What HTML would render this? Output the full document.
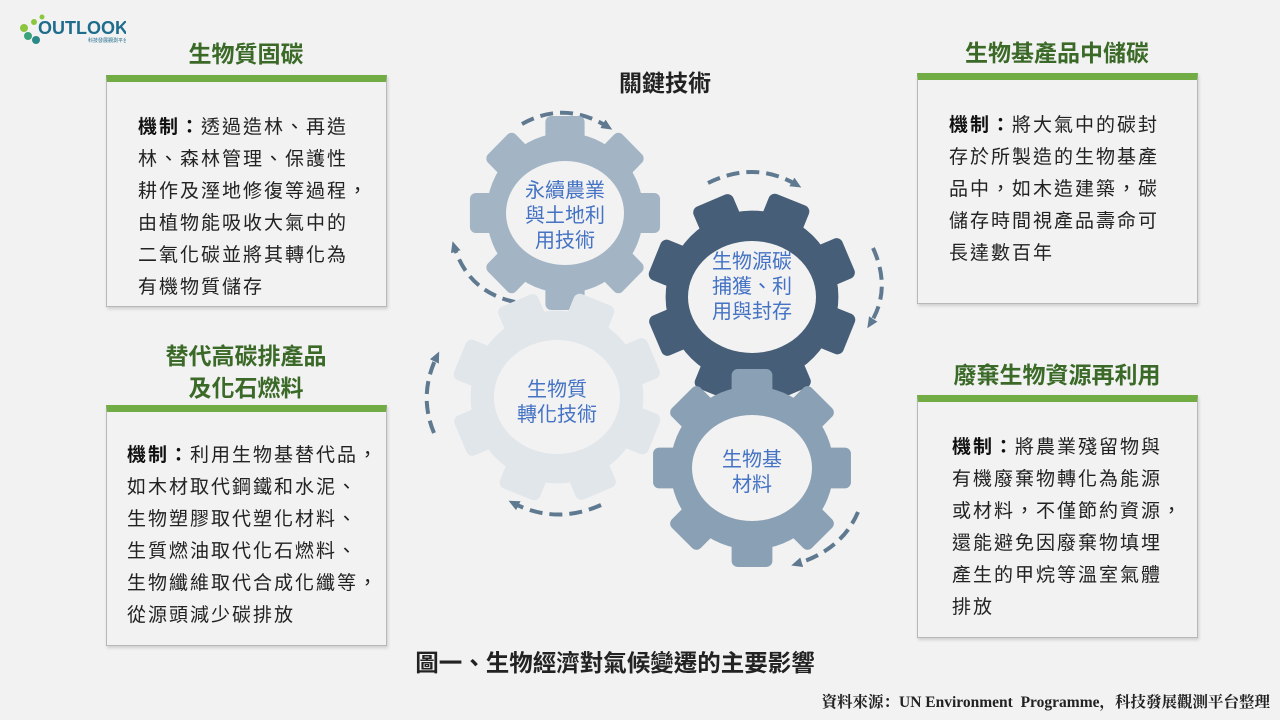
<!DOCTYPE html>
<html><head><meta charset="utf-8"><style>
body{margin:0;width:1280px;height:720px;background:#f2f2f2;position:relative;overflow:hidden;font-family:"Liberation Sans","Noto Sans CJK TC",sans-serif;}
.t{position:absolute;color:#3b6a28;font-weight:bold;font-size:23px;text-align:center;line-height:32px}
.box{position:absolute;background:#f2f2f2;border:1px solid #b8b8b8;border-top:7px solid #72ac45;box-shadow:1px 2px 3px rgba(0,0,0,.15);box-sizing:border-box;font-size:19px;color:#222;line-height:32px;letter-spacing:2px;white-space:nowrap}
.box b{color:#111}
.g{font-family:"Liberation Sans","Noto Sans CJK TC",sans-serif;font-size:20px;fill:#4472c4;text-anchor:middle}
</style></head><body>
<svg style="position:absolute;left:14px;top:6px" width="112" height="38">
<circle cx="10" cy="22" r="4" fill="#8cc63f"/><circle cx="14" cy="30" r="4" fill="#3aa37a"/><circle cx="20" cy="16" r="3" fill="#8cc63f"/><circle cx="28" cy="11" r="2.5" fill="#8cc63f"/><circle cx="22" cy="34" r="4" fill="#2b8a88"/>
<text x="24" y="28" font-family="Liberation Sans" font-weight="bold" font-size="18" fill="#1f6c8c">OUTLOOK</text>
<text x="74" y="36" font-size="5" fill="#1f6c8c" font-family="Noto Sans CJK TC">科技發展觀測平台</text></svg>

<div class="t" style="left:106px;top:38px;width:280px">生物質固碳</div>
<div class="box" style="left:106px;top:75px;width:281px;height:232px;padding:30px 0 0 31px">
<b>機制：</b>透過造林、再造<br>林、森林管理、保護性<br>耕作及溼地修復等過程，<br>由植物能吸收大氣中的<br>二氧化碳並將其轉化為<br>有機物質儲存</div>

<div class="t" style="left:106px;top:340px;width:280px">替代高碳排產品<br>及化石燃料</div>
<div class="box" style="left:106px;top:405px;width:281px;height:241px;padding:28px 0 0 20px">
<b>機制：</b>利用生物基替代品，<br>如木材取代鋼鐵和水泥、<br>生物塑膠取代塑化材料、<br>生質燃油取代化石燃料、<br>生物纖維取代合成化纖等，<br>從源頭減少碳排放</div>

<div class="t" style="left:917px;top:37px;width:280px">生物基產品中儲碳</div>
<div class="box" style="left:917px;top:73px;width:281px;height:231px;padding:30px 0 0 31px">
<b>機制：</b>將大氣中的碳封<br>存於所製造的生物基產<br>品中，如木造建築，碳<br>儲存時間視產品壽命可<br>長達數百年</div>

<div class="t" style="left:917px;top:359px;width:280px">廢棄生物資源再利用</div>
<div class="box" style="left:917px;top:395px;width:281px;height:243px;padding:30px 0 0 34px">
<b>機制：</b>將農業殘留物與<br>有機廢棄物轉化為能源<br>或材料，不僅節約資源，<br>還能避免因廢棄物填埋<br>產生的甲烷等溫室氣體<br>排放</div>

<div style="position:absolute;left:560px;top:64px;width:210px;text-align:center;font-weight:bold;font-size:23px;color:#222">關鍵技術</div>
<div style="position:absolute;left:300px;top:644px;width:630px;text-align:center;font-weight:bold;font-size:23.5px;color:#222">圖一、生物經濟對氣候變遷的主要影響</div>
<div style="position:absolute;right:10px;top:690px;font-weight:bold;font-size:15.5px;color:#222;font-family:'Liberation Serif','Noto Serif CJK SC',serif">資料來源：UN Environment&nbsp; Programme，科技發展觀測平台整理</div>

<svg style="position:absolute;left:0;top:0" width="1280" height="720">
<defs>
<marker id="a" markerWidth="12" markerHeight="12" refX="6" refY="6" orient="auto" markerUnits="userSpaceOnUse"><path d="M0,1 L11,6 L0,11 Z" fill="#5f7a90"/></marker>
<g id="t8"><rect x="-20" y="-97" width="40" height="194" rx="6"/><rect x="-20" y="-97" width="40" height="194" rx="6" transform="rotate(45)"/><rect x="-20" y="-97" width="40" height="194" rx="6" transform="rotate(90)"/><rect x="-20" y="-97" width="40" height="194" rx="6" transform="rotate(135)"/></g>
</defs>
<g fill="none" stroke="#5f7a90" stroke-width="4" stroke-dasharray="13,7" marker-end="url(#a)">
<path d="M522,124 Q565,100 608,127"/>
<path d="M708,183 Q755,160 797,185"/>
<path d="M873,248 Q892,290 870,324"/>
<path d="M515,302 Q468,292 454,246"/>
<path d="M434,433 Q418,395 437,356"/>
<path d="M601,505 Q556,525 513,503"/>
<path d="M858,512 Q842,550 796,564"/>
</g>
<g transform="translate(565,213) scale(0.98,1)" fill="#a3b5c5"><use href="#t8"/><circle r="80"/></g>
<ellipse cx="565" cy="213" rx="59" ry="52" fill="#f2f2f2"/>
<g transform="translate(557,397) rotate(22) scale(1.08)" fill="#e1e6eb"><use href="#t8"/><circle r="80"/></g>
<ellipse cx="557" cy="397" rx="63" ry="57" fill="#f2f2f2"/>
<g transform="translate(752,297) rotate(22) scale(1.08)" fill="#475e78"><use href="#t8"/><circle r="80"/></g>
<ellipse cx="752" cy="297" rx="64" ry="56" fill="#f2f2f2"/>
<g transform="translate(752,468) scale(1.02)" fill="#8aa0b4"><use href="#t8"/><circle r="80"/></g>
<ellipse cx="752" cy="468" rx="60" ry="53" fill="#f2f2f2"/>
<text class="g" x="565" y="197">永續農業</text><text class="g" x="565" y="222">與土地利</text><text class="g" x="565" y="247">用技術</text>
<text class="g" x="752" y="268">生物源碳</text><text class="g" x="752" y="293">捕獲、利</text><text class="g" x="752" y="318">用與封存</text>
<text class="g" x="557" y="396">生物質</text><text class="g" x="557" y="421">轉化技術</text>
<text class="g" x="752" y="466">生物基</text><text class="g" x="752" y="491">材料</text>
</svg>
</body></html>
